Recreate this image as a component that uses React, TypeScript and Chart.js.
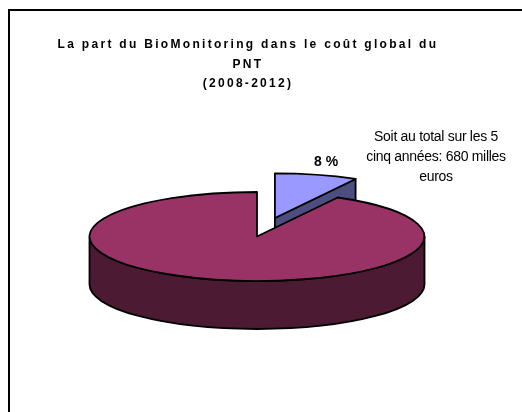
import { useEffect, useRef } from "react";
import { Chart, registerables } from "chart.js";

Chart.register(...registerables);

// ---- data ----
const categories = ["BioMonitoring", "Autres coûts du PNT"];
const shares = [8, 92];
const valueLabels = ["8 %", ""];
const titleLines = [
  "La part du BioMonitoring dans le coût global du",
  "PNT",
  "(2008-2012)",
];
const noteLines = ["Soit au total sur les 5", "cinq années: 680 milles", "euros"];

// ---- styles ----
const topColors = ["#9999FF", "#993366"];
const sideColors = ["#4D4D80", "#4C1A33"];
const explodeDist = [72, 0];

const W = 522;
const H = 412;
const CENTER_X = 257;
const CENTER_Y = 236.5;
const RADIUS = 167.5;
const TILT = 44.5 / 167.5;
const DEPTH = 48;
const LABEL_FACTOR = 1.3;
const FONT = "'Liberation Sans', Arial, sans-serif";

type Geo = { el: any; i: number; X: number; Y: number; R: number; ry: number; a0: number; a1: number; mid: number };

function geometry(chart: any): Geo[] {
  const meta = chart.getDatasetMeta(0);
  return meta.data.map((el: any, i: number) => {
    const a0 = el.startAngle;
    const a1 = el.endAngle;
    const mid = (a0 + a1) / 2;
    const d = explodeDist[i] || 0;
    const X = CENTER_X + Math.cos(mid) * d;
    const Y = CENTER_Y + Math.sin(mid) * d * TILT;
    const R = el.outerRadius;
    return { el, i, X, Y, R, ry: R * TILT, a0, a1, mid };
  });
}

const pie3d = {
  id: "pie3d",
  beforeDraw(chart: any) {
    const ctx = chart.ctx;
    ctx.save();
    ctx.fillStyle = "#000";
    ctx.fillRect(8, 9, W - 8, 2);
    ctx.fillRect(8, 9, 2, H - 9);
    ctx.restore();
    (ctx as any).letterSpacing = "2.3px";
  },
  beforeDatasetsDraw(chart: any) {
    const ctx = chart.ctx;
    (ctx as any).letterSpacing = "0px";
    const geos = geometry(chart).sort((p, q) => Math.sin(p.mid) - Math.sin(q.mid));
    ctx.save();
    ctx.lineWidth = 1.8;
    ctx.lineJoin = "round";
    ctx.strokeStyle = "#000";
    for (const g of geos) {
      const { X, Y, R, ry, a0, a1, el, i } = g;
      const P = (a: number) => [X + R * Math.cos(a), Y + ry * Math.sin(a)];
      ctx.fillStyle = sideColors[i];
      // radial faces
      const faces: number[] = [];
      if (Math.cos(a0) < -1e-6) faces.push(a0);
      if (Math.cos(a1) > 1e-6) faces.push(a1);
      for (const a of faces) {
        const [px, py] = P(a);
        ctx.beginPath();
        ctx.moveTo(X, Y);
        ctx.lineTo(px, py);
        ctx.lineTo(px, py + DEPTH);
        ctx.lineTo(X, Y + DEPTH);
        ctx.closePath();
        ctx.fill();
        ctx.stroke();
      }
      // outer front wall
      for (let k = -2; k <= 2; k++) {
        const lo = Math.max(a0, 2 * Math.PI * k);
        const hi = Math.min(a1, 2 * Math.PI * k + Math.PI);
        if (hi - lo > 1e-6) {
          ctx.beginPath();
          ctx.ellipse(X, Y, R, ry, 0, lo, hi);
          ctx.ellipse(X, Y + DEPTH, R, ry, 0, hi, lo, true);
          ctx.closePath();
          ctx.fill();
          ctx.stroke();
        }
      }
      // top face drawn by the library's arc element
      ctx.save();
      ctx.setTransform(1, 0, 0, TILT, X - el.x, Y - el.y * TILT);
      el.draw(ctx);
      ctx.restore();
      // top outline
      const [sx, sy] = P(a0);
      ctx.beginPath();
      ctx.moveTo(X, Y);
      ctx.lineTo(sx, sy);
      ctx.ellipse(X, Y, R, ry, 0, a0, a1);
      ctx.closePath();
      ctx.stroke();
    }
    ctx.restore();
    return false;
  },
  afterDraw(chart: any) {
    const ctx = chart.ctx;
    ctx.save();
    (ctx as any).letterSpacing = "0px";
    ctx.fillStyle = "#000";
    ctx.textAlign = "center";
    ctx.textBaseline = "middle";
    for (const g of geometry(chart)) {
      const t = valueLabels[g.i];
      if (!t) continue;
      ctx.font = `bold 14px ${FONT}`;
      const lx = g.X + Math.cos(g.mid) * g.R * LABEL_FACTOR;
      const ly = g.Y + Math.sin(g.mid) * g.R * LABEL_FACTOR * TILT;
      ctx.fillText(t, lx - 3, ly);
    }
    ctx.font = `14px ${FONT}`;
    (ctx as any).letterSpacing = "-0.3px";
    noteLines.forEach((line, j) => ctx.fillText(line, 436, 137 + j * 20));
    ctx.restore();
  },
};

export default function App() {
  const ref = useRef<HTMLCanvasElement | null>(null);
  useEffect(() => {
    if (!ref.current) return;
    const chart = new Chart(ref.current, {
      type: "pie",
      data: {
        labels: categories,
        datasets: [
          {
            data: shares,
            backgroundColor: topColors,
            borderWidth: 0,
            radius: RADIUS,
          } as any,
        ],
      },
      options: {
        responsive: false,
        animation: false,
        events: [],
        radius: RADIUS,
        layout: { padding: { right: 26 } },
        plugins: {
          legend: { display: false },
          tooltip: { enabled: false },
          title: {
            display: true,
            text: titleLines,
            color: "#000",
            font: { family: FONT, size: 12, weight: "bold", lineHeight: 1.625 },
            padding: { top: 35, bottom: 10 },
          },
        },
      } as any,
      plugins: [pie3d as any],
    });
    return () => chart.destroy();
  }, []);
  return (
    <canvas
      ref={ref}
      width={W}
      height={H}
      style={{ position: "fixed", left: 0, top: 0, width: W, height: H }}
    />
  );
}
